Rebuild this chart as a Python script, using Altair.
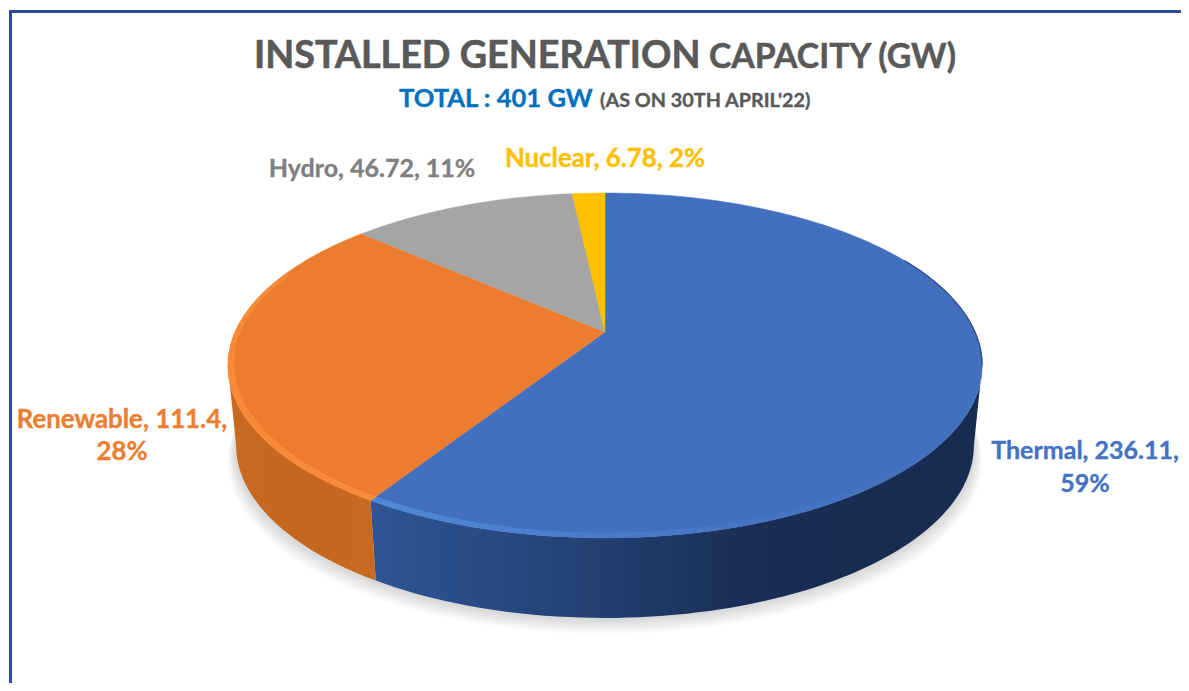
import math
import altair as alt
import pandas as pd

# ---- data ----
categories = ["Thermal", "Renewable", "Hydro", "Nuclear"]
capacity_gw = [236.11, 111.4, 46.72, 6.78]
percent_labels = ["59%", "28%", "11%", "2%"]
slice_colors = ["#4270BE", "#EC7D30", "#A5A5A5", "#FFC000"]
label_colors = ["#4472C4", "#ED7D31", "#7F7F7F", "#FFC000"]

# ---- layout of the tilted pie (plot-area pixels) ----
W, H = 1173, 675
OFF = 8
CX, CY = 605 - OFF, 332 - OFF        # image of the pie centre
R, S, K = 370.0, 166.0, 0.194        # perspective: radius x, radius y, tilt
DEPTH, SHRINK = 80.0, 0.978
ELL_CY = 365 - OFF


def rim(deg):
    a = math.radians(deg)
    u, v = math.sin(a), -math.cos(a)
    d = 1 - K * v
    return CX + R * u / d, CY + S * v / d


def lower(p, extra=0.0, grow=0.0):
    return CX + (SHRINK + grow) * (p[0] - CX), p[1] + DEPTH + extra


def arange(a0, a1, step=1.5):
    n = max(2, int(abs(a1 - a0) / step) + 1)
    return [a0 + (a1 - a0) * i / (n - 1) for i in range(n)]


def feature(points):
    ring = [list(p) for p in points]
    ring.append(ring[0])
    return {"type": "Feature", "properties": {}, "geometry": {"type": "Polygon", "coordinates": [ring]}}


def line_feature(points):
    return {"type": "Feature", "properties": {}, "geometry": {"type": "LineString", "coordinates": [list(p) for p in points]}}


total = sum(capacity_gw)
edges = [0.0]
for v in capacity_gw:
    edges.append(edges[-1] + 360.0 * v / total)

RIGHT = math.degrees(math.pi - math.acos(K))
LEFT = 360 - RIGHT

PROJ = dict(type="identity", scale=1, translate=[0, 0])


def shape(features, **mark):
    return alt.Chart(alt.Data(values=features)).mark_geoshape(**mark).project(**PROJ)


def hgrad(*stops):
    return alt.Gradient(
        gradient="linear", x1=0, x2=1, y1=0, y2=0,
        stops=[alt.GradientStop(offset=o, color=c) for o, c in stops],
    )


layers = []

# soft shadow below the body
shadow = []
for i in range(1, 11):
    pts = [lower(rim(a), extra=i * 1.6, grow=i * 0.0022) for a in arange(70, 290, 3)]
    shadow.append(feature(pts))
layers.append(shape(shadow, fill="#7a7a7a", fillOpacity=0.028, stroke=None))


# side wall
def wall(a0, a1):
    top = [rim(a) for a in arange(a0, a1)]
    return feature(top + [lower(p) for p in reversed(top)])


layers.append(shape([wall(RIGHT, edges[1])],
                    fill=hgrad((0, "#2F5597"), (0.3, "#254579"), (0.62, "#1A2E55"), (1, "#182B50")),
                    stroke=None))
layers.append(shape([wall(edges[1], LEFT)],
                    fill=hgrad((0, "#C96A24"), (0.6, "#C5661F"), (1, "#C96A22")),
                    stroke=None))

# top face
for i, color in enumerate(slice_colors):
    pts = [(CX, CY)] + [rim(a) for a in arange(edges[i], edges[i + 1])]
    layers.append(shape([feature(pts)], fill=color, stroke=color, strokeWidth=0.4))


# bevel along the front rim
def bevel(a0, a1, width=0.03):
    outer = [rim(a) for a in arange(a0, a1)]
    inner = []
    for a, p in zip(arange(a0, a1), outer):
        v = -math.cos(math.radians(a))
        f = width * (0.45 + 0.55 * max(v, 0.0))
        inner.append((p[0] - f * (p[0] - CX), p[1] - f * (p[1] - ELL_CY)))
    return feature(outer + list(reversed(inner)))


layers.append(shape([bevel(130, edges[1])],
                    fill=hgrad((0, "#5088D8"), (0.45, "#4879CB"), (1, "#4270BE")),
                    stroke=None))
layers.append(shape([bevel(edges[1], 292)], fill="#F88A38", stroke=None))

# dark edge on the far right of the rim
layers.append(shape([line_feature([rim(a) for a in arange(62, RIGHT)])],
                    filled=False, fill=None, stroke="#2B4A80", strokeWidth=1.2))

# frame
frame_top = pd.DataFrame({"k": ["top"]})
layers.append(alt.Chart(frame_top).mark_rule(color="#2B4A9E", strokeWidth=3).encode(
    x=alt.value(1), x2=alt.value(W), y=alt.value(3.5)))
layers.append(alt.Chart(frame_top).mark_rule(color="#2B4A9E", strokeWidth=3).encode(
    x=alt.value(2.5), y=alt.value(2), y2=alt.value(H)))


def text(s, x, y, size, color, align="left", bold=0.35):
    df = pd.DataFrame({"t": [s]})
    return alt.Chart(df).mark_text(
        font="Lato", fontWeight="bold", fontSize=size, color=color, align=align, baseline="alphabetic",
        stroke=color, strokeWidth=bold,
    ).encode(x=alt.value(x - OFF), y=alt.value(y - OFF), text="t:N")


# titles
layers.append(text("INSTALLED GENERATION", 254, 68, 37.7, "#595959", bold=0.6))
layers.append(text("CAPACITY (GW)", 709, 68, 33.8, "#595959", bold=0.5))
layers.append(text("TOTAL : 401 GW", 399, 107, 25.6, "#0070C0"))
layers.append(text("(AS ON 30TH APRIL'22)", 600, 107, 19.8, "#595959"))

# data labels
LBL = 25.8
layers.append(text(f"{categories[0]}, {capacity_gw[0]},", 1085, 459, 25.0, label_colors[0], "center"))
layers.append(text(percent_labels[0], 1085, 492, 25.0, label_colors[0], "center"))
layers.append(text(f"{categories[1]}, {capacity_gw[1]},", 122, 428, LBL, label_colors[1], "center"))
layers.append(text(percent_labels[1], 122, 460, LBL, label_colors[1], "center"))
layers.append(text(f"{categories[2]}, {capacity_gw[2]}, {percent_labels[2]}", 372, 177, 25.0, label_colors[2], "center"))
layers.append(text(f"{categories[3]}, {capacity_gw[3]}, {percent_labels[3]}", 605, 167, LBL, label_colors[3], "center"))

chart = alt.layer(*layers).properties(
    width=W, height=H, padding=0, autosize=alt.AutoSizeParams(type="none"), background="white"
).configure_view(stroke=None)

chart.save("out.html", embed_options={"renderer": "svg", "actions": False})
